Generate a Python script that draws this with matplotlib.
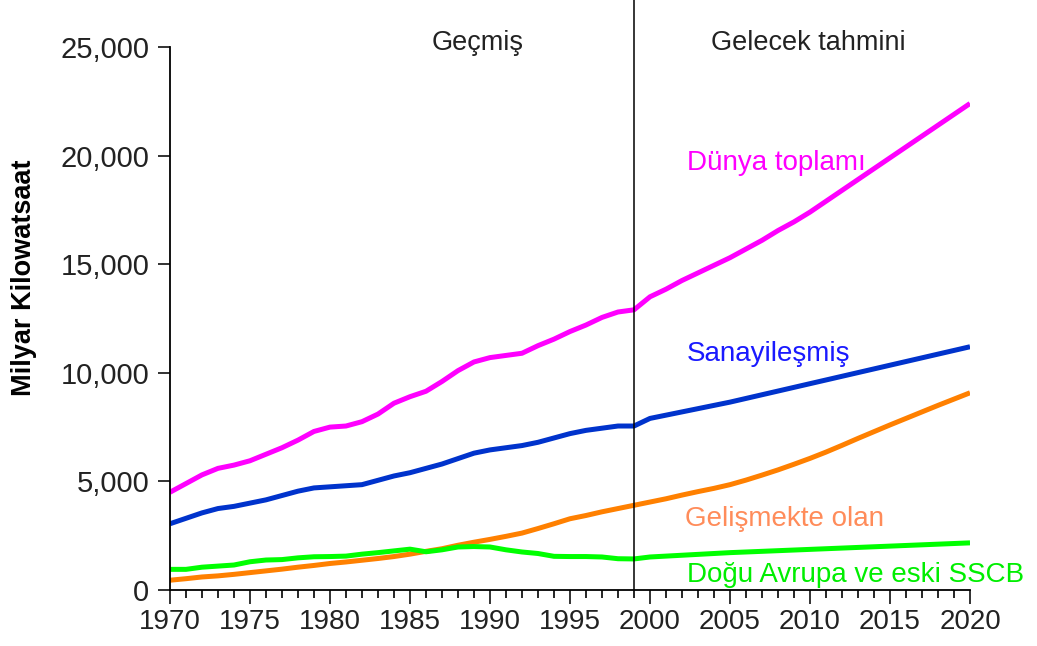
import matplotlib
matplotlib.use("Agg")
import matplotlib.pyplot as plt
from matplotlib.ticker import MultipleLocator, FuncFormatter

plt.rcParams['font.family'] = ['Liberation Sans', 'DejaVu Sans']

years = list(range(1970, 2021))

# Dünya toplamı
world = [4500, 4900, 5300, 5600, 5750, 5950, 6250, 6550, 6900, 7300,
         7500, 7550, 7750, 8100, 8600, 8900, 9150, 9600, 10100, 10500,
         10700, 10800, 10900, 11250, 11550, 11900, 12200, 12550, 12800, 12900,
         13500, 13850, 14250, 14600, 14950, 15300, 15700, 16100, 16550, 16950,
         17400, 17900, 18400, 18900, 19400, 19900, 20400, 20900, 21400, 21900,
         22400]

# Sanayileşmiş
industrial = [3050, 3300, 3550, 3750, 3850, 4000, 4150, 4350, 4550, 4700,
              4750, 4800, 4850, 5050, 5250, 5400, 5600, 5800, 6050, 6300,
              6450, 6550, 6650, 6800, 7000, 7200, 7350, 7450, 7550, 7550,
              7900, 8050, 8200, 8350, 8500, 8650, 8820, 8990, 9160, 9330,
              9500, 9670, 9840, 10010, 10180, 10350, 10520, 10690, 10860, 11030,
              11200]

# Gelişmekte olan
developing = [450, 520, 600, 650, 720, 800, 880, 960, 1050, 1130,
              1220, 1290, 1370, 1450, 1540, 1650, 1780, 1900, 2060, 2200,
              2330, 2470, 2620, 2830, 3050, 3280, 3430, 3600, 3750, 3900,
              4050, 4200, 4370, 4530, 4680, 4850, 5060, 5290, 5530, 5790,
              6060, 6350, 6660, 6980, 7290, 7600, 7900, 8200, 8500, 8790,
              9080]

# Doğu Avrupa ve eski SSCB
eastern = [950, 950, 1050, 1100, 1150, 1300, 1380, 1400, 1480, 1530,
           1540, 1560, 1650, 1720, 1800, 1880, 1760, 1850, 1980, 2000,
           1980, 1850, 1750, 1680, 1550, 1540, 1540, 1520, 1440, 1430,
           1520, 1560, 1600, 1640, 1680, 1720, 1750, 1780, 1810, 1840,
           1870, 1900, 1930, 1960, 1990, 2020, 2050, 2080, 2110, 2140,
           2170]

split_year = 1999

fig = plt.figure(figsize=(10.37, 6.46), dpi=100)
ax = fig.add_axes([0.1639, 0.0867, 0.7715, 0.8405])

ax.plot(years, world, color='#ff00ff', lw=3.6, solid_capstyle='butt')
ax.plot(years, industrial, color='#0033cc', lw=3.6, solid_capstyle='butt')
ax.plot(years, developing, color='#ff8000', lw=3.6, solid_capstyle='butt')
ax.plot(years, eastern, color='#00ff00', lw=3.6, solid_capstyle='butt')

ax.axvline(split_year, ymin=0, ymax=1.087, color='black', lw=1.1, clip_on=False)

ax.set_xlim(1970, 2020)
ax.set_ylim(0, 25000)

ax.spines['top'].set_visible(False)
ax.spines['right'].set_visible(False)
ax.spines['left'].set_linewidth(1.3)
ax.spines['bottom'].set_linewidth(1.3)

ax.xaxis.set_major_locator(MultipleLocator(5))
ax.xaxis.set_minor_locator(MultipleLocator(1))
ax.yaxis.set_major_locator(MultipleLocator(5000))
ax.yaxis.set_major_formatter(FuncFormatter(lambda v, p: f"{int(v):,}"))
ax.tick_params(axis='x', which='major', length=10, width=1.3, labelsize=20, pad=4, colors='#222222')
ax.tick_params(axis='x', which='minor', length=6, width=1.2)
ax.tick_params(axis='y', length=9, width=1.3, labelsize=21, pad=6, colors='#222222')

ax.set_ylabel("Milyar Kilowatsaat", fontsize=19.5, fontweight='bold')
ax.yaxis.set_label_coords(-0.166, 0.575)

ax.text(1989.2, 25200, "Geçmiş", fontsize=19.5, color='#222222', ha='center', va='center')
ax.text(2009.9, 25200, "Gelecek tahmini", fontsize=19.5, color='#222222', ha='center', va='center')

ax.text(2002.3, 19650, "Dünya toplamı", fontsize=20, color='#ff00ff', va='center')
ax.text(2002.3, 10850, "Sanayileşmiş", fontsize=20, color='#1a1aff', va='center')
ax.text(2002.2, 3280, "Gelişmekte olan", fontsize=20, color='#ff8c5a', va='center')
ax.text(2002.3, 700, "Doğu Avrupa ve eski SSCB", fontsize=20, color='#00ee00', va='center')

fig.savefig("out.png", dpi=100)
